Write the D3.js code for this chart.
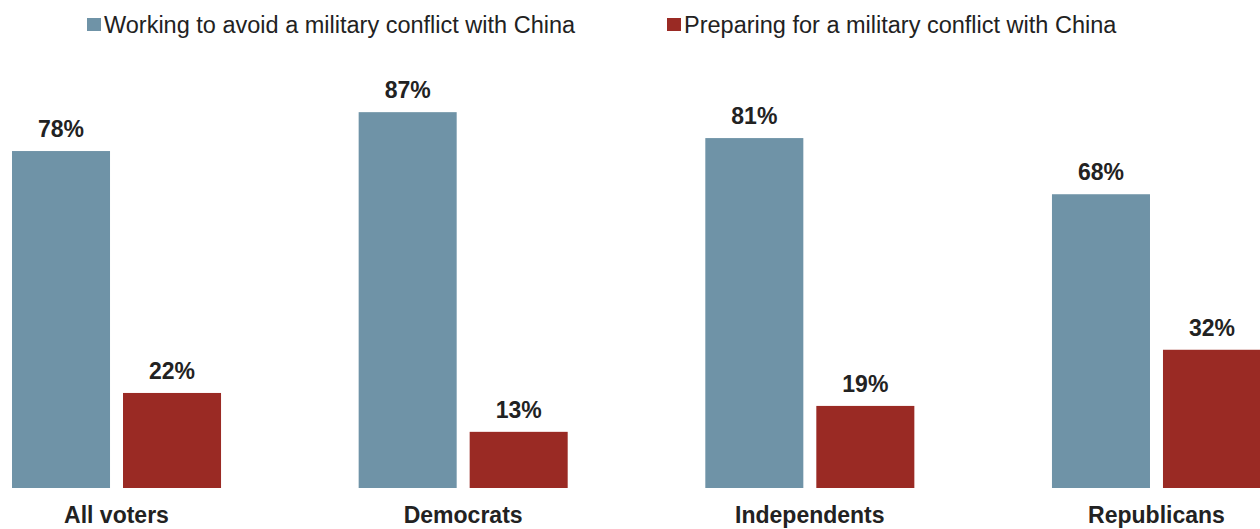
<!DOCTYPE html>
<html>
<head>
<meta charset="utf-8">
<script src="https://cdn.jsdelivr.net/npm/d3@7"></script>
<style>
	body { margin: 0; background: #fff; }
	svg { display: block; font-family: 'Liberation Sans', Arial, sans-serif; }
	.value { font-weight: bold; font-size: 23px; fill: #222; }
	.cat { font-weight: bold; font-size: 23px; fill: #222; }
	.legend-text { font-size: 23.5px; fill: #222; }
</style>
</head>
<body>
<div id="chart"></div>
<script>
// data
const categories = ['All voters', 'Democrats', 'Independents', 'Republicans'];
const seriesNames = [
	'Working to avoid a military conflict with China',
	'Preparing for a military conflict with China'
];
const avoidValues = [78, 87, 81, 68];
const prepareValues = [22, 13, 19, 32];
const colors = ['#6f93a7', '#9a2a24'];

const width = 1260;
const height = 529;
const baseline = 488;

const rows = categories.map((c, i) => ({
	key: c,
	values: [
		{ series: seriesNames[0], value: avoidValues[i] },
		{ series: seriesNames[1], value: prepareValues[i] }
	]
}));

const $svg = d3.select('#chart').append('svg')
	.attr('width', width)
	.attr('height', height);

// scales
const x0 = d3.scaleBand().domain(categories).range([12, 1261]).paddingInner(0.397);
const x1 = d3.scaleBand().domain(seriesNames).range([0, x0.bandwidth()]).paddingInner(0.117);
const y = d3.scaleLinear().domain([0, 100]).range([baseline, 56]);
const color = d3.scaleOrdinal().domain(seriesNames).range(colors);

// bars
const $groups = $svg.selectAll('.group')
	.data(rows)
	.join('g')
	.attr('class', 'group')
	.attr('transform', d => `translate(${x0(d.key)}, 0)`);

$groups.selectAll('rect')
	.data(d => d.values)
	.join('rect')
	.attr('x', d => x1(d.series))
	.attr('y', d => y(d.value))
	.attr('width', x1.bandwidth())
	.attr('height', d => baseline - y(d.value))
	.attr('fill', d => color(d.series));

$groups.selectAll('.value')
	.data(d => d.values)
	.join('text')
	.attr('class', 'value')
	.attr('x', d => x1(d.series) + x1.bandwidth() / 2)
	.attr('y', d => y(d.value) - 14)
	.attr('text-anchor', 'middle')
	.text(d => `${d.value}%`);

$groups.append('text')
	.attr('class', 'cat')
	.attr('x', x0.bandwidth() / 2)
	.attr('y', 523)
	.attr('text-anchor', 'middle')
	.text(d => d.key);

// legend
const legendX = [87, 667];
const $legend = $svg.selectAll('.legend')
	.data(seriesNames)
	.join('g')
	.attr('class', 'legend')
	.attr('transform', (d, i) => `translate(${legendX[i]}, 0)`);

$legend.append('rect')
	.attr('x', 0)
	.attr('y', 18)
	.attr('width', 14)
	.attr('height', 13)
	.attr('fill', d => color(d));

$legend.append('text')
	.attr('class', 'legend-text')
	.attr('x', 17)
	.attr('y', 33)
	.text(d => d);
</script>
</body>
</html>
